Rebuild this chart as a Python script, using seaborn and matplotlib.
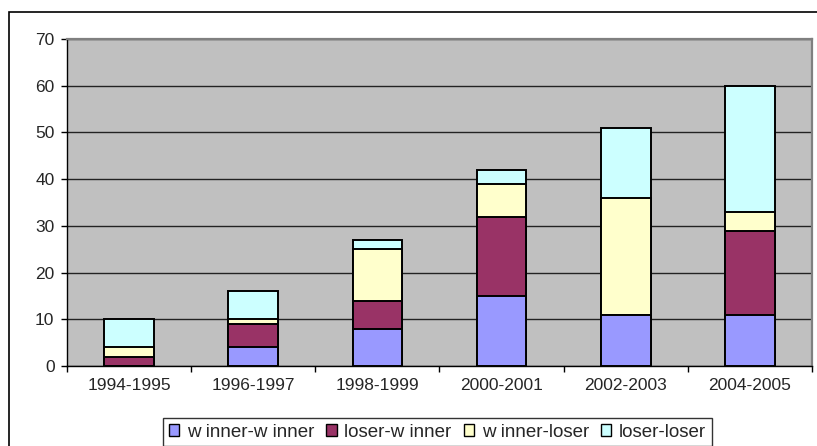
import matplotlib
matplotlib.use("Agg")
import matplotlib.pyplot as plt
import pandas as pd
import numpy as np
import seaborn as sns
from matplotlib.patches import Rectangle, Patch

# Two-year periods and the count of each pairing type per period
periods = ["1994-1995", "1996-1997", "1998-1999", "2000-2001", "2002-2003", "2004-2005"]
winner_winner = [0, 4, 8, 15, 11, 11]
loser_winner = [2, 5, 6, 17, 0, 18]
winner_loser = [2, 1, 11, 7, 25, 4]
loser_loser = [6, 6, 2, 3, 15, 27]

series_labels = ["w inner-w inner", "loser-w inner", "w inner-loser", "loser-loser"]
series_colors = ["#9999FF", "#993366", "#FFFFCC", "#CCFFFF"]
y_ticks = [0, 10, 20, 30, 40, 50, 60, 70]

sns.set_style("white")
plt.rcParams["font.family"] = ["Liberation Sans", "DejaVu Sans"]

fig = plt.figure(figsize=(8.17, 4.46), dpi=100)
ax = fig.add_axes([67 / 817, 1 - 366 / 446, (812 - 67) / 817, (366 - 39) / 446])

# Cumulative tops of the stacked segments
values = np.array([winner_winner, loser_winner, winner_loser, loser_loser], dtype=float)
tops = np.cumsum(values, axis=0)

frames = []
for label, row in zip(series_labels, tops):
    frames.append(pd.DataFrame({"period": periods, "series": label, "top": row}))
df = pd.concat(frames, ignore_index=True)

# Draw from the highest segment down so each lower one covers the previous
for label, color in reversed(list(zip(series_labels, series_colors))):
    sns.barplot(data=df[df["series"] == label], x="period", y="top", order=periods,
                color=color, saturation=1, width=0.4, errorbar=None,
                edgecolor="black", linewidth=1.4, ax=ax, zorder=3)

ax.set_facecolor("#C0C0C0")
ax.set_ylim(0, 70)
ax.set_xlim(-0.5, len(periods) - 0.5)
ax.set_yticks(y_ticks)
ax.set_xlabel("")
ax.set_ylabel("")
ax.yaxis.grid(True, color="#222222", linewidth=1.0, zorder=0)
ax.set_axisbelow(True)

for side in ["left", "bottom"]:
    ax.spines[side].set_color("black")
    ax.spines[side].set_linewidth(1.0)
for side in ["top", "right"]:
    ax.spines[side].set_color("#808080")
    ax.spines[side].set_linewidth(1.6)
    ax.spines[side].set_visible(True)

ax.tick_params(axis="y", which="major", direction="out", length=4, width=1,
               color="black", labelsize=12.5, pad=5, left=True)
ax.tick_params(axis="x", which="major", length=0, labelsize=12.5, pad=9)
ax.set_xticks(np.arange(-0.5, len(periods), 1.0), minor=True)
ax.tick_params(axis="x", which="minor", direction="out", length=4, width=1,
               color="black", bottom=True)

# Outer chart frame
fig.patches.append(Rectangle((9 / 817, -0.05), 1.1, 1 - 12 / 446 + 0.05,
                             transform=fig.transFigure, fill=False,
                             edgecolor="black", linewidth=1.2, zorder=0))

handles = [Patch(facecolor=c, edgecolor="black", linewidth=1.0, label=l)
           for l, c in zip(series_labels, series_colors)]
leg = fig.legend(handles=handles, loc="upper center", bbox_to_anchor=(437.5 / 817, 1 - 418 / 446),
                 ncol=4, frameon=True, fontsize=13.5, handlelength=0.55, handleheight=0.55,
                 handletextpad=0.4, columnspacing=0.65, borderpad=0.3, fancybox=False,
                 borderaxespad=0)
leg.get_frame().set_edgecolor("black")
leg.get_frame().set_linewidth(1.0)

fig.savefig("out.png", dpi=100)
